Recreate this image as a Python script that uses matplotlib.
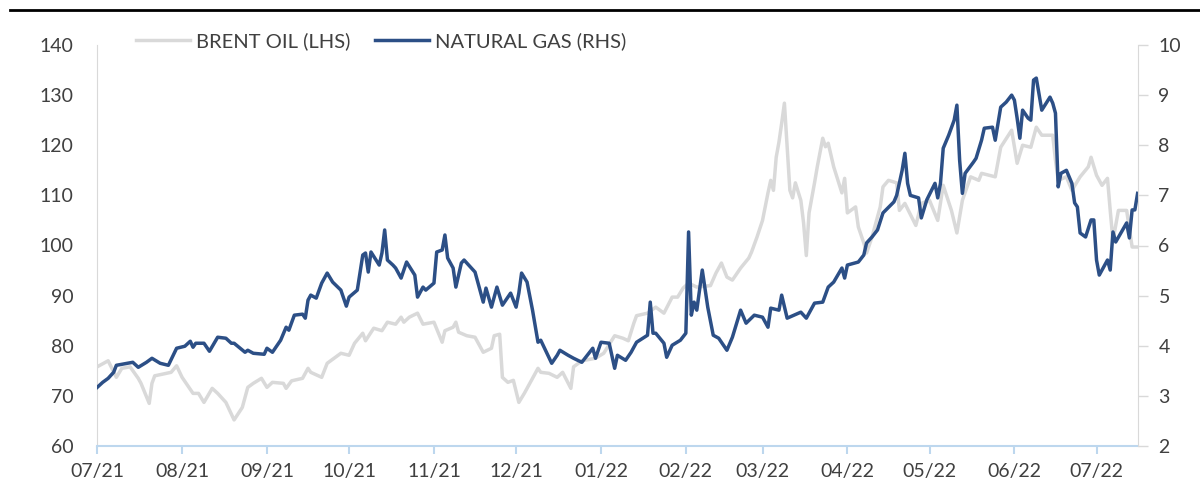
import numpy as np
import pandas as pd
import matplotlib
matplotlib.use("Agg")
import matplotlib.pyplot as plt
import matplotlib.dates as mdates
from matplotlib.lines import Line2D

plt.rcParams['font.family'] = ['Lato', 'DejaVu Sans']

# start date for the day offsets below
start = pd.Timestamp("2021-07-01")

# Brent oil, USD/bbl (left axis), days after start
brent_day = [0, 4, 7, 9, 12, 15, 16, 19, 20, 21, 27, 29, 31, 35, 37, 39, 42, 44, 47, 50,
             53, 55, 57, 60, 62, 64, 68, 69, 71, 75, 77, 78, 82, 84, 89, 92, 94, 97, 98, 101,
             104, 106, 109, 111, 112, 114, 117, 119, 123, 126, 127, 130, 131, 132, 135, 138, 141, 144, 145, 147,
             148, 150, 152, 154, 156, 161, 162, 165, 168, 170, 173, 174, 177, 182, 185, 189, 192, 194, 196, 197,
             201, 204, 207, 210, 212, 214, 216, 219, 224, 226, 228, 230, 232, 235, 238, 239, 241, 243, 245, 246,
             247, 248, 249, 250, 251, 252, 253, 254, 255, 257, 258, 259, 260, 262, 263, 265, 266, 267, 269, 272,
             273, 274, 277, 278, 280, 281, 283, 286, 287, 289, 292, 293, 295, 299, 301, 304, 307, 309, 312, 314,
             316, 319, 322, 323, 328, 330, 334, 336, 338, 341, 343, 345, 349, 350, 351, 354, 356, 359, 362, 363,
             365, 367, 369, 370, 371, 373, 376, 378, 380]
brent = [75.8, 77.0, 73.7, 75.5, 75.8, 73.5, 72.5, 68.5, 72.5, 74.0, 74.7, 76.0, 73.7, 70.5, 70.5, 68.7, 71.5, 70.5, 68.7, 65.2,
         67.7, 71.7, 72.5, 73.5, 71.7, 72.7, 72.5, 71.5, 73.0, 73.5, 75.5, 74.7, 73.7, 76.5, 78.5, 78.1, 80.5, 82.5, 81.0, 83.5,
         83.0, 84.7, 84.3, 85.7, 84.7, 85.7, 86.5, 84.3, 84.7, 80.7, 83.0, 83.7, 84.7, 82.7, 82.0, 81.7, 78.7, 79.5, 82.0, 82.3,
         73.7, 72.7, 73.1, 68.7, 70.5, 75.5, 74.7, 74.5, 73.7, 74.7, 71.5, 75.8, 77.0, 77.5, 78.5, 82.0, 81.5, 81.0, 84.5, 86.0,
         86.5, 87.7, 86.5, 89.7, 89.7, 91.5, 92.5, 91.7, 92.0, 94.5, 96.5, 93.7, 93.1, 95.5, 97.5, 98.7, 101.7, 105.0, 110.5, 113.0,
         111.0, 117.6, 120.6, 124.4, 128.4, 119.6, 111.0, 109.5, 112.5, 109.0, 104.5, 98.0, 106.5, 112.5, 115.7, 121.4, 119.7, 120.4, 115.7, 110.5,
         113.4, 106.5, 107.7, 103.7, 100.5, 98.5, 101.7, 107.7, 111.7, 113.0, 112.5, 107.0, 108.4, 104.0, 108.4, 109.0, 105.0, 112.0, 107.0, 102.5,
         109.0, 113.7, 113.0, 114.4, 113.7, 119.6, 123.0, 116.4, 120.0, 119.6, 123.6, 122.0, 122.0, 117.0, 113.0, 113.7, 111.0, 113.7, 115.7, 117.6,
         114.0, 112.0, 113.4, 107.0, 101.0, 107.0, 107.0, 99.7, 99.7]

# Natural gas, USD/MMBtu (right axis), days after start
gas_day = [0, 2, 4, 6, 7, 11, 13, 15, 18, 20, 23, 26, 29, 32, 34, 35, 36, 39, 41, 44,
           47, 49, 50, 54, 55, 57, 61, 62, 64, 67, 69, 70, 72, 75, 76, 77, 78, 80, 82, 84,
           86, 89, 91, 92, 95, 97, 98, 99, 100, 103, 104, 105, 106, 108, 109, 111, 113, 116, 117, 119,
           120, 123, 124, 126, 127, 128, 130, 131, 133, 134, 138, 141, 142, 144, 146, 148, 151, 153, 154, 155,
           157, 159, 161, 162, 166, 168, 169, 172, 174, 177, 181, 182, 184, 187, 189, 190, 193, 195, 197, 201,
           202, 203, 204, 207, 208, 210, 213, 215, 216, 217, 218, 219, 221, 223, 225, 227, 230, 232, 235, 237,
           240, 243, 245, 246, 249, 250, 252, 257, 259, 262, 265, 267, 269, 272, 273, 274, 278, 280, 281, 283,
           285, 287, 291, 292, 294, 295, 296, 297, 300, 301, 303, 306, 307, 308, 309, 311, 313, 314, 315, 316,
           317, 320, 321, 323, 324, 327, 328, 330, 332, 334, 335, 336, 337, 338, 340, 341, 342, 343, 345, 348,
           349, 350, 351, 352, 354, 356, 357, 358, 359, 361, 363, 364, 365, 366, 369, 370, 371, 372, 376, 377,
           378, 379, 380]
gas = [3.17, 3.27, 3.35, 3.47, 3.61, 3.65, 3.67, 3.57, 3.67, 3.75, 3.65, 3.61, 3.95, 3.99, 4.09, 3.97, 4.05, 4.05, 3.89, 4.17,
       4.15, 4.05, 4.05, 3.87, 3.91, 3.85, 3.83, 3.95, 3.87, 4.11, 4.37, 4.31, 4.61, 4.63, 4.55, 4.91, 5.01, 4.95, 5.25, 5.45,
       5.27, 5.11, 4.79, 4.97, 5.11, 5.81, 5.85, 5.47, 5.87, 5.61, 5.85, 6.31, 5.71, 5.61, 5.55, 5.35, 5.67, 5.41, 4.97, 5.17,
       5.11, 5.25, 5.87, 5.91, 6.21, 5.75, 5.55, 5.17, 5.65, 5.71, 5.47, 4.87, 5.15, 4.77, 5.17, 4.81, 5.05, 4.77, 5.05, 5.45,
       5.27, 4.71, 4.07, 4.11, 3.65, 3.81, 3.91, 3.81, 3.75, 3.67, 3.95, 3.75, 4.07, 4.05, 3.55, 3.81, 3.71, 3.87, 4.07, 4.21,
       4.87, 4.25, 4.25, 4.05, 3.77, 4.01, 4.11, 4.25, 6.27, 4.61, 4.87, 4.71, 5.51, 4.77, 4.21, 4.15, 3.91, 4.17, 4.71, 4.45,
       4.61, 4.57, 4.37, 4.75, 4.71, 5.01, 4.55, 4.67, 4.55, 4.85, 4.87, 5.17, 5.27, 5.55, 5.35, 5.61, 5.67, 5.81, 6.05, 6.17,
       6.31, 6.65, 6.87, 7.00, 7.50, 7.84, 7.24, 7.00, 6.95, 6.55, 6.91, 7.24, 6.95, 7.24, 7.94, 8.20, 8.50, 8.80, 7.70, 7.04,
       7.44, 7.66, 7.74, 8.10, 8.34, 8.36, 8.10, 8.76, 8.86, 9.00, 8.90, 8.54, 8.14, 8.70, 8.54, 8.50, 9.30, 9.34, 8.70, 8.96,
       8.84, 8.64, 7.17, 7.44, 7.50, 7.24, 6.85, 6.77, 6.25, 6.17, 6.51, 6.51, 5.71, 5.41, 5.71, 5.51, 6.27, 6.07, 6.45, 6.15,
       6.71, 6.71, 7.04]

brent_dates = start + pd.to_timedelta(brent_day, unit="D")
gas_dates = start + pd.to_timedelta(gas_day, unit="D")

text_col = "#404040"
grey_line = "#D9D9D9"
blue_line = "#2C4F86"
axis_blue = "#BDD7EE"

fig = plt.figure(figsize=(12, 5), dpi=100)
ax = fig.add_axes([0.081, 0.108, 0.867, 0.802])
ax2 = ax.twinx()

ax.plot(brent_dates, brent, color=grey_line, lw=2.5, label="BRENT OIL (LHS)", solid_joinstyle="round")
ax2.plot(gas_dates, gas, color=blue_line, lw=2.5, label="NATURAL GAS (RHS)", solid_joinstyle="round")

ax.set_xlim(start, start + pd.Timedelta(days=380))
ax.set_ylim(60, 140)
ax2.set_ylim(2, 10)
ax.set_yticks(np.arange(60, 141, 10))
ax2.set_yticks(np.arange(2, 11, 1))

ax.xaxis.set_major_locator(mdates.MonthLocator())
ax.xaxis.set_major_formatter(mdates.DateFormatter("%m/%y"))

for a in (ax, ax2):
    a.spines["top"].set_visible(False)
    a.spines["left"].set_color(grey_line)
    a.spines["right"].set_color(grey_line)
    a.spines["bottom"].set_color(axis_blue)
    a.spines["bottom"].set_linewidth(1.5)
ax.spines["right"].set_visible(False)
ax2.spines["left"].set_visible(False)
ax2.spines["bottom"].set_visible(False)

ax.tick_params(axis="y", length=0, labelsize=14, labelcolor=text_col, pad=17)
ax.tick_params(axis="x", length=6, width=1.5, color=axis_blue, labelsize=14,
               labelcolor=text_col, pad=6)
ax2.tick_params(axis="y", length=7, width=1, color=grey_line, labelsize=14,
                labelcolor=text_col, pad=8)

h1, l1 = ax.get_legend_handles_labels()
h2, l2 = ax2.get_legend_handles_labels()
fig.legend(h1 + h2, l1 + l2, loc="center left", bbox_to_anchor=(0.098, 0.918), ncol=2,
           frameon=False, fontsize=14.5, labelcolor=text_col, handlelength=2.7,
           handletextpad=0.3, columnspacing=1.2)

# black rule across the top of the figure
fig.add_artist(Line2D([0.008, 1.0], [0.98, 0.98], color="black", lw=2, transform=fig.transFigure))

fig.savefig("out.png", dpi=100)
